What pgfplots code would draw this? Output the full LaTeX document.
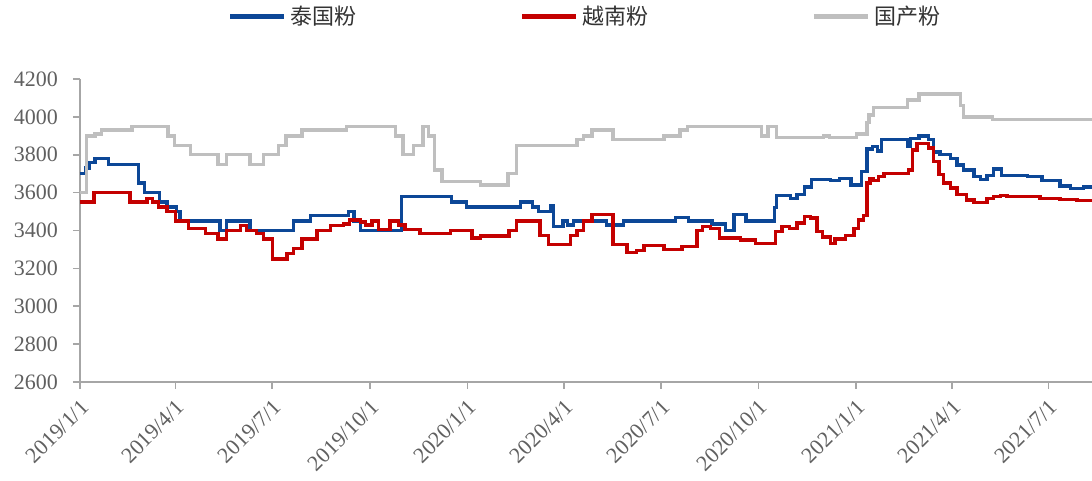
\documentclass[border=0pt]{standalone}
\usepackage{fontspec}
\setmainfont{Liberation Serif}
\newfontfamily\cjk{Noto Sans CJK SC}
\usepackage{pgfplots}
\pgfplotsset{compat=1.18}
\definecolor{cblue}{RGB}{12,71,151}
\definecolor{cred}{RGB}{196,0,0}
\definecolor{cgray}{RGB}{191,191,191}
\definecolor{tgray}{RGB}{96,96,96}
\definecolor{agray}{RGB}{166,166,166}
\begin{document}
\begin{tikzpicture}
\useasboundingbox (0,0) rectangle (546pt,240.5pt);
\begin{axis}[
  at={(40pt,49.5pt)}, anchor=south west,
  scale only axis, width=506pt, height=151.5pt,
  xmin=0, xmax=953, ymin=2600, ymax=4200,
  axis lines*=left,
  axis line style={agray, line width=0.8pt},
  tick style={agray, line width=0.8pt},
  tick align=outside, major tick length=3.5pt,
  xtick={0,90,181,273,365,456,547,639,731,821,912},
  xticklabels={2019/1/1,2019/4/1,2019/7/1,2019/10/1,2020/1/1,2020/4/1,2020/7/1,2020/10/1,2021/1/1,2021/4/1,2021/7/1},
  ytick={2600,2800,...,4200},
  /pgf/number format/assume math mode=true,
  /pgf/number format/1000 sep={},
  ticklabel style={font=\fontsize{11}{13}\selectfont, text=tgray},
  xticklabel style={rotate=45, anchor=east, yshift=-7pt},
  yticklabel style={xshift=-4pt},
  clip=true,
  legend columns=3,
  legend style={at={(0.5,1.205)}, anchor=center, draw=none, fill=none,
    font=\cjk\fontsize{11}{13}\selectfont, text=black!80,
    /tikz/every even column/.append style={column sep=79.5pt}},
  legend image code/.code={\draw[#1, line width=2.4pt] (0pt,0pt) -- (27pt,0pt);},
]
\addplot[const plot, cblue, line width=1.7pt] coordinates {
(0,3700)(5,3730)(9,3760)(14,3780)(27,3750)(55,3650)(61,3600)(75,3550)(82,3525)(91,3500)(94,3450)(132,3400)(138,3450)(160,3400)(201,3450)(217,3480)(253,3500)(258,3450)(264,3400)(303,3580)(350,3550)(364,3525)(415,3550)(426,3525)(432,3500)(443,3530)(446,3420)(455,3450)(459,3430)(465,3450)(496,3430)(512,3450)(561,3470)(573,3450)(595,3435)(608,3400)(616,3485)(627,3450)(654,3520)(656,3585)(669,3570)(675,3590)(682,3630)(689,3670)(707,3665)(715,3675)(726,3640)(736,3710)(741,3830)(746,3845)(751,3820)(755,3880)(779,3845)(782,3885)(790,3900)(799,3880)(804,3815)(810,3800)(820,3780)(826,3745)(832,3720)(842,3685)(848,3670)(854,3690)(860,3725)(868,3690)(892,3685)(906,3665)(923,3635)(933,3622)(945,3630)(953,3630)
};
\addlegendentry{泰国粉}
\addplot[const plot, cred, line width=1.7pt] coordinates {
(0,3550)(13,3600)(47,3550)(63,3570)(68,3550)(74,3525)(82,3500)(90,3450)(102,3410)(118,3385)(130,3355)(138,3400)(151,3425)(157,3400)(166,3385)(173,3355)(181,3250)(195,3280)(201,3305)(209,3355)(223,3400)(236,3425)(248,3435)(254,3455)(264,3445)(269,3430)(275,3450)(281,3405)(292,3450)(300,3430)(306,3405)(320,3385)(349,3400)(369,3360)(377,3370)(404,3400)(411,3450)(433,3375)(441,3325)(462,3375)(468,3400)(474,3450)(482,3485)(502,3325)(515,3285)(524,3295)(531,3320)(550,3300)(567,3315)(581,3400)(586,3420)(594,3410)(602,3360)(622,3350)(636,3330)(655,3395)(661,3420)(668,3410)(675,3440)(682,3475)(688,3465)(694,3395)(699,3365)(707,3330)(711,3355)(721,3375)(729,3410)(733,3455)(738,3480)(741,3650)(744,3675)(747,3665)(752,3685)(757,3700)(780,3720)(784,3825)(788,3860)(799,3835)(804,3765)(809,3695)(813,3650)(820,3625)(826,3590)(835,3560)(842,3548)(854,3570)(860,3578)(867,3585)(873,3580)(904,3570)(923,3565)(939,3557)(953,3557)
};
\addlegendentry{越南粉}
\addplot[const plot, cgray, line width=1.7pt] coordinates {
(0,3600)(6,3900)(14,3910)(20,3930)(49,3950)(83,3900)(89,3850)(104,3800)(130,3750)(138,3800)(160,3750)(173,3800)(187,3850)(194,3900)(209,3930)(251,3950)(297,3900)(304,3800)(314,3850)(323,3950)(328,3900)(334,3720)(341,3660)(377,3640)(403,3700)(411,3850)(468,3880)(474,3900)(482,3930)(502,3880)(550,3900)(565,3930)(572,3950)(642,3900)(648,3950)(656,3890)(700,3900)(706,3890)(731,3910)(741,3970)(743,4010)(747,4050)(779,4090)(790,4120)(829,4060)(832,4000)(859,3985)(953,3985)
};
\addlegendentry{国产粉}
\end{axis}
\end{tikzpicture}
\end{document}
